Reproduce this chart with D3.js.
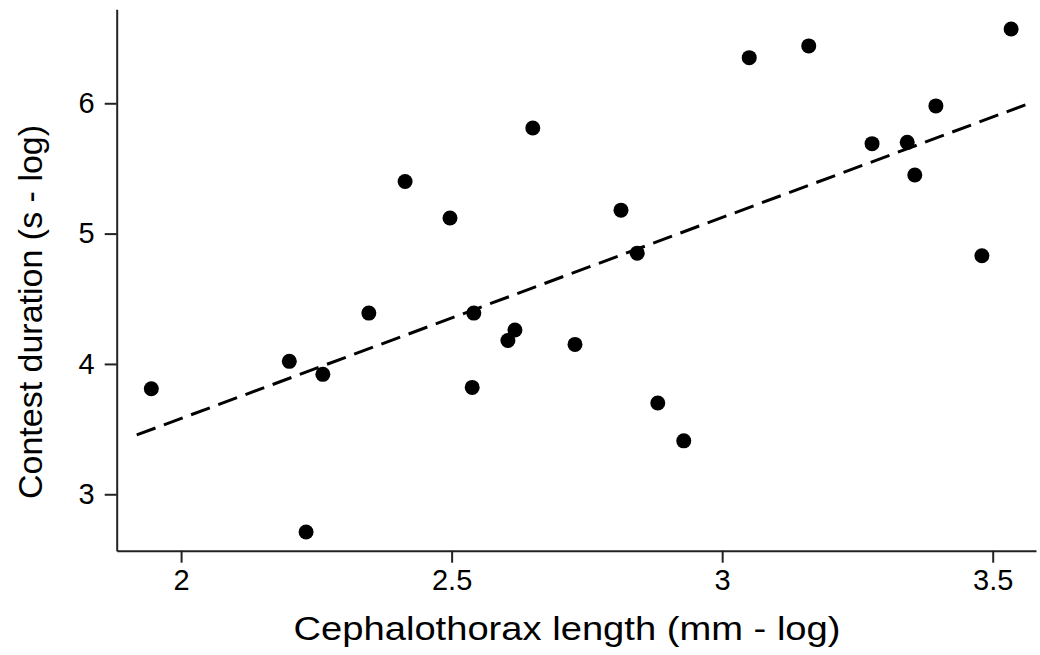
<!DOCTYPE html>
<html>
<head>
<meta charset="utf-8">
<script src="https://cdn.jsdelivr.net/npm/d3@7"></script>
<style>
  body { margin: 0; background: #fff; }
  svg { display: block; font-family: "Liberation Sans", Arial, sans-serif; }
</style>
</head>
<body>
<script>
// cephalothorax length (log) vs contest duration (log)
var lengthLog = [1.945, 2.200, 2.231, 2.262, 2.347, 2.414, 2.497, 2.541, 2.538, 2.604,
                 2.617, 2.650, 2.728, 2.813, 2.843, 2.881, 2.929, 3.050, 3.160, 3.277,
                 3.342, 3.356, 3.395, 3.480, 3.534];
var durationLog = [3.81, 4.02, 2.71, 3.92, 4.39, 5.40, 5.12, 4.39, 3.82, 4.18,
                   4.26, 5.81, 4.15, 5.18, 4.85, 3.70, 3.41, 6.35, 6.44, 5.69,
                   5.70, 5.45, 5.98, 4.83, 6.57];
// fitted line ends
var fitX = [1.918, 3.565];
var fitY = [3.455, 5.995];
var xTicks = [2, 2.5, 3, 3.5];
var yTicks = [3, 4, 5, 6];

var W = 1040, H = 655;
var svg = d3.select("body").append("svg").attr("width", W).attr("height", H);

var x = d3.scaleLinear().domain([1.881, 3.58]).range([116.7, 1036]);
var y = d3.scaleLinear().domain([2.567, 6.721]).range([550.7, 9.3]);

var xAxis = svg.append("g")
  .attr("transform", "translate(0," + y.range()[0] + ")")
  .call(d3.axisBottom(x).tickValues(xTicks).tickSize(12).tickPadding(7)
    .tickFormat(d3.format("")).tickSizeOuter(0));
var yAxis = svg.append("g")
  .attr("transform", "translate(" + x.range()[0] + ",0)")
  .call(d3.axisLeft(y).tickValues(yTicks).tickSize(12).tickPadding(10)
    .tickFormat(d3.format("d")).tickSizeOuter(0));

[xAxis, yAxis].forEach(function(g) {
  g.select(".domain").attr("stroke", "#222").attr("stroke-width", 2);
  g.selectAll(".tick line").attr("stroke", "#222").attr("stroke-width", 2);
  g.selectAll(".tick text").attr("fill", "#000")
    .style("font-size", "29px").style("font-family", "Liberation Sans, Arial, sans-serif");
});

// dashed fit
svg.append("line")
  .attr("x1", x(fitX[0])).attr("y1", y(fitY[0]))
  .attr("x2", x(fitX[1])).attr("y2", y(fitY[1]))
  .attr("stroke", "#000").attr("stroke-width", 3)
  .attr("stroke-dasharray", "20,9");

svg.append("g").selectAll("circle")
  .data(lengthLog)
  .enter().append("circle")
  .attr("cx", function(d) { return x(d); })
  .attr("cy", function(d, i) { return y(durationLog[i]); })
  .attr("r", 7.5)
  .attr("fill", "#000");

svg.append("text")
  .attr("x", 567).attr("y", 640)
  .attr("text-anchor", "middle")
  .attr("textLength", 547)
  .attr("lengthAdjust", "spacingAndGlyphs")
  .style("font-size", "34px")
  .text("Cephalothorax length (mm - log)");

svg.append("text")
  .attr("transform", "translate(42,312) rotate(-90)")
  .attr("text-anchor", "middle")
  .style("font-size", "34px")
  .text("Contest duration (s - log)");
</script>
</body>
</html>
